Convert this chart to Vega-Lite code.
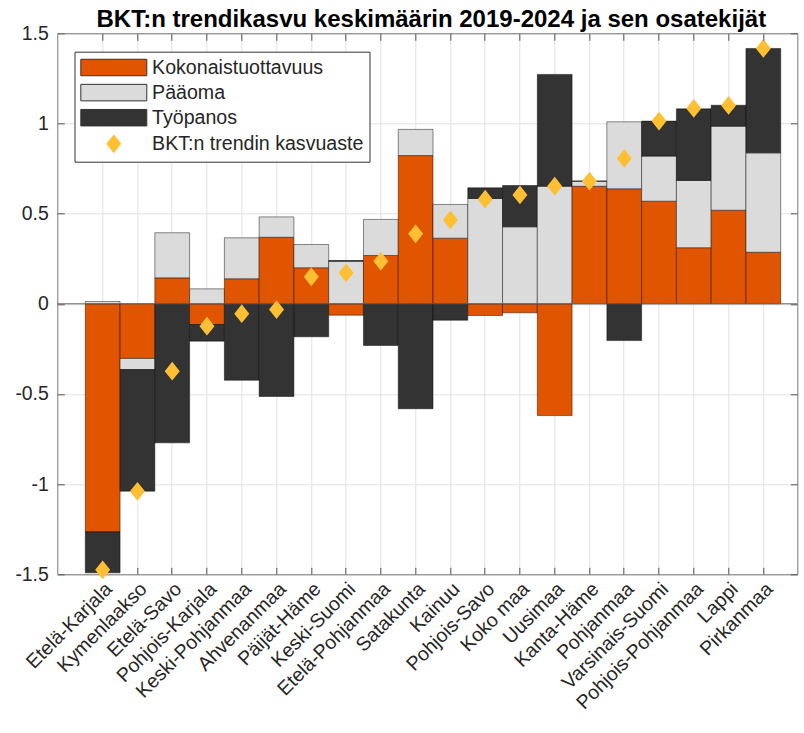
{
  "$schema": "https://vega.github.io/schema/vega-lite/v6.json",
  "autosize": {"type": "none"},
  "padding": {"left": 57.3, "top": 33.3, "right": 6.7, "bottom": 158.7},
  "width": 740,
  "height": 541,
  "background": "white",
  "config": {"view": {"stroke": null}, "font": "Liberation Sans"},
  "title": {"text": "BKT:n trendikasvu keskimäärin 2019-2024 ja sen osatekijät", "font": "Liberation Sans", "fontSize": 24, "fontWeight": "bold", "color": "#000000", "anchor": "middle", "baseline": "bottom", "offset": 0, "dy": 33, "dx": 4},
  "datasets": {
    "bars": [
      {"region": "Etelä-Karjala", "component": "Kokonaistuottavuus", "value": -1.265},
      {"region": "Etelä-Karjala", "component": "Pääoma", "value": 0.013},
      {"region": "Etelä-Karjala", "component": "Työpanos", "value": -0.227},
      {"region": "Kymenlaakso", "component": "Kokonaistuottavuus", "value": -0.303},
      {"region": "Kymenlaakso", "component": "Pääoma", "value": -0.062},
      {"region": "Kymenlaakso", "component": "Työpanos", "value": -0.674},
      {"region": "Etelä-Savo", "component": "Kokonaistuottavuus", "value": 0.144},
      {"region": "Etelä-Savo", "component": "Pääoma", "value": 0.25},
      {"region": "Etelä-Savo", "component": "Työpanos", "value": -0.771},
      {"region": "Pohjois-Karjala", "component": "Kokonaistuottavuus", "value": -0.115},
      {"region": "Pohjois-Karjala", "component": "Pääoma", "value": 0.083},
      {"region": "Pohjois-Karjala", "component": "Työpanos", "value": -0.092},
      {"region": "Keski-Pohjanmaa", "component": "Kokonaistuottavuus", "value": 0.139},
      {"region": "Keski-Pohjanmaa", "component": "Pääoma", "value": 0.227},
      {"region": "Keski-Pohjanmaa", "component": "Työpanos", "value": -0.424},
      {"region": "Ahvenanmaa", "component": "Kokonaistuottavuus", "value": 0.369},
      {"region": "Ahvenanmaa", "component": "Pääoma", "value": 0.113},
      {"region": "Ahvenanmaa", "component": "Työpanos", "value": -0.514},
      {"region": "Päijät-Häme", "component": "Kokonaistuottavuus", "value": 0.2},
      {"region": "Päijät-Häme", "component": "Pääoma", "value": 0.129},
      {"region": "Päijät-Häme", "component": "Työpanos", "value": -0.183},
      {"region": "Keski-Suomi", "component": "Kokonaistuottavuus", "value": -0.063},
      {"region": "Keski-Suomi", "component": "Pääoma", "value": 0.236},
      {"region": "Keski-Suomi", "component": "Työpanos", "value": 0.004},
      {"region": "Etelä-Pohjanmaa", "component": "Kokonaistuottavuus", "value": 0.268},
      {"region": "Etelä-Pohjanmaa", "component": "Pääoma", "value": 0.2},
      {"region": "Etelä-Pohjanmaa", "component": "Työpanos", "value": -0.231},
      {"region": "Satakunta", "component": "Kokonaistuottavuus", "value": 0.822},
      {"region": "Satakunta", "component": "Pääoma", "value": 0.145},
      {"region": "Satakunta", "component": "Työpanos", "value": -0.582},
      {"region": "Kainuu", "component": "Kokonaistuottavuus", "value": 0.364},
      {"region": "Kainuu", "component": "Pääoma", "value": 0.187},
      {"region": "Kainuu", "component": "Työpanos", "value": -0.091},
      {"region": "Pohjois-Savo", "component": "Kokonaistuottavuus", "value": -0.065},
      {"region": "Pohjois-Savo", "component": "Pääoma", "value": 0.584},
      {"region": "Pohjois-Savo", "component": "Työpanos", "value": 0.059},
      {"region": "Koko maa", "component": "Kokonaistuottavuus", "value": -0.05},
      {"region": "Koko maa", "component": "Pääoma", "value": 0.427},
      {"region": "Koko maa", "component": "Työpanos", "value": 0.229},
      {"region": "Uusimaa", "component": "Kokonaistuottavuus", "value": -0.62},
      {"region": "Uusimaa", "component": "Pääoma", "value": 0.652},
      {"region": "Uusimaa", "component": "Työpanos", "value": 0.62},
      {"region": "Kanta-Häme", "component": "Kokonaistuottavuus", "value": 0.652},
      {"region": "Kanta-Häme", "component": "Pääoma", "value": 0.028},
      {"region": "Kanta-Häme", "component": "Työpanos", "value": 0.0},
      {"region": "Pohjanmaa", "component": "Kokonaistuottavuus", "value": 0.638},
      {"region": "Pohjanmaa", "component": "Pääoma", "value": 0.371},
      {"region": "Pohjanmaa", "component": "Työpanos", "value": -0.204},
      {"region": "Varsinais-Suomi", "component": "Kokonaistuottavuus", "value": 0.569},
      {"region": "Varsinais-Suomi", "component": "Pääoma", "value": 0.25},
      {"region": "Varsinais-Suomi", "component": "Työpanos", "value": 0.194},
      {"region": "Pohjois-Pohjanmaa", "component": "Kokonaistuottavuus", "value": 0.311},
      {"region": "Pohjois-Pohjanmaa", "component": "Pääoma", "value": 0.373},
      {"region": "Pohjois-Pohjanmaa", "component": "Työpanos", "value": 0.397},
      {"region": "Lappi", "component": "Kokonaistuottavuus", "value": 0.519},
      {"region": "Lappi", "component": "Pääoma", "value": 0.466},
      {"region": "Lappi", "component": "Työpanos", "value": 0.116},
      {"region": "Pirkanmaa", "component": "Kokonaistuottavuus", "value": 0.286},
      {"region": "Pirkanmaa", "component": "Pääoma", "value": 0.551},
      {"region": "Pirkanmaa", "component": "Työpanos", "value": 0.579}
    ],
    "trend": [
      {"region": "Etelä-Karjala", "value": -1.475},
      {"region": "Kymenlaakso", "value": -1.04},
      {"region": "Etelä-Savo", "value": -0.374},
      {"region": "Pohjois-Karjala", "value": -0.124},
      {"region": "Keski-Pohjanmaa", "value": -0.055},
      {"region": "Ahvenanmaa", "value": -0.032},
      {"region": "Päijät-Häme", "value": 0.15},
      {"region": "Keski-Suomi", "value": 0.172},
      {"region": "Etelä-Pohjanmaa", "value": 0.236},
      {"region": "Satakunta", "value": 0.388},
      {"region": "Kainuu", "value": 0.465},
      {"region": "Pohjois-Savo", "value": 0.58},
      {"region": "Koko maa", "value": 0.604},
      {"region": "Uusimaa", "value": 0.652},
      {"region": "Kanta-Häme", "value": 0.68},
      {"region": "Pohjanmaa", "value": 0.806},
      {"region": "Varsinais-Suomi", "value": 1.013},
      {"region": "Pohjois-Pohjanmaa", "value": 1.083},
      {"region": "Lappi", "value": 1.1},
      {"region": "Pirkanmaa", "value": 1.416}
    ]
  },
  "resolve": {"axis": {"x": "independent", "y": "independent"}},
  "layer": [
    {
      "data": {"name": "bars"},
      "mark": {"type": "bar", "stroke": "#000000", "strokeWidth": 0.7, "strokeOpacity": 0.65},
      "encoding": {
        "x": {
          "field": "region", "type": "nominal",
          "scale": {"domain": ["Etelä-Karjala", "Kymenlaakso", "Etelä-Savo", "Pohjois-Karjala", "Keski-Pohjanmaa", "Ahvenanmaa", "Päijät-Häme", "Keski-Suomi", "Etelä-Pohjanmaa", "Satakunta", "Kainuu", "Pohjois-Savo", "Koko maa", "Uusimaa", "Kanta-Häme", "Pohjanmaa", "Varsinais-Suomi", "Pohjois-Pohjanmaa", "Lappi", "Pirkanmaa"], "paddingInner": 0, "paddingOuter": 0.641, "align": 0.628},
          "axis": {"orient": "bottom", "title": null, "labelAngle": -45, "labelAlign": "right", "labelBaseline": "top", "labelPadding": 12, "tickSize": -7, "bandPosition": 0.5, "grid": true, "gridColor": "#e2e2e2", "gridWidth": 1, "domainColor": "#7a7a7a", "domainWidth": 1, "tickColor": "#555555", "labelColor": "#262626", "labelFont": "Liberation Sans", "labelFontSize": 19.6, "labelLimit": 300, "zindex": 0}
        },
        "y": {
          "field": "value", "type": "quantitative", "stack": "zero",
          "scale": {"domain": [-1.5, 1.5], "nice": false, "zero": false},
          "axis": {"orient": "left", "title": null, "values": [-1.5, -1, -0.5, 0, 0.5, 1, 1.5], "labelExpr": "'' + datum.value", "tickSize": -7, "labelPadding": 16, "grid": true, "gridColor": "#e2e2e2", "gridWidth": 1, "domainColor": "#7a7a7a", "domainWidth": 1, "tickColor": "#555555", "labelColor": "#262626", "labelFont": "Liberation Sans", "labelFontSize": 19.4, "zindex": 0}
        },
        "color": {
          "field": "component", "type": "nominal",
          "scale": {"domain": ["Kokonaistuottavuus", "Pääoma", "Työpanos", "BKT:n trendin kasvuaste"], "range": ["#E25500", "#DBDBDB", "#333333", "#FFBF33"]},
          "legend": {
            "title": null, "orient": "none", "legendX": 17.2, "legendY": 18.4,
            "fillColor": "white", "strokeColor": "#333333", "padding": 6,
            "labelFont": "Liberation Sans", "labelFontSize": 19.6, "labelColor": "#262626", "labelLimit": 400,
            "labelOffset": 52, "rowPadding": 3.1,
            "symbolType": "M-1.15,-1H6.85V1H-1.15Z", "symbolSize": 272, "symbolStrokeWidth": 1, "symbolStrokeColor": "#333333", "symbolOpacity": 1,
            "encode": {"symbols": {"update": {
              "shape": {"signal": "datum.value === 'BKT:n trendin kasvuaste' ? 'M2.85,-1.14L3.76,0L2.85,1.14L1.94,0Z' : 'M-1.15,-1H6.85V1H-1.15Z'"},
              "stroke": {"signal": "datum.value === 'BKT:n trendin kasvuaste' ? 'transparent' : '#333333'"}
            }}}
          }
        },
        "order": {"field": "component", "sort": "ascending"}
      }
    },
    {
      "data": {"values": [{}]},
      "mark": {"type": "rule", "color": "#666666", "strokeWidth": 1},
      "encoding": {"y": {"datum": 0, "type": "quantitative", "axis": null}}
    },
    {
      "data": {"name": "trend"},
      "mark": {"type": "point", "shape": "M0,-1.25L1,0L0,1.25L-1,0Z", "size": 225, "filled": true, "opacity": 1, "strokeWidth": 0},
      "encoding": {
        "x": {"field": "region", "type": "nominal", "axis": {"orient": "top", "labels": false, "title": null, "tickSize": -7, "grid": false, "bandPosition": 0.5, "domainColor": "#7a7a7a", "domainWidth": 1, "tickColor": "#555555", "zindex": 1}},
        "y": {"field": "value", "type": "quantitative", "axis": {"orient": "right", "labels": false, "title": null, "tickSize": -7, "grid": false, "values": [-1.5, -1, -0.5, 0, 0.5, 1, 1.5], "domainColor": "#7a7a7a", "domainWidth": 1, "tickColor": "#555555", "zindex": 1}},
        "color": {"datum": "BKT:n trendin kasvuaste", "type": "nominal"}
      }
    }
  ]
}
